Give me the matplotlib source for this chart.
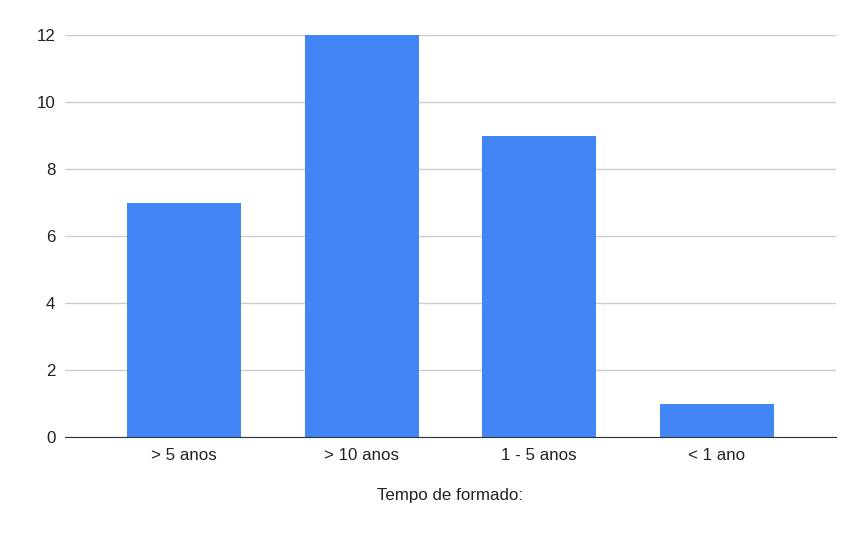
import matplotlib.pyplot as plt

categorias = ["> 5 anos", "> 10 anos", "1 - 5 anos", "< 1 ano"]
valores = [7, 12, 9, 1]

plt.rcParams['font.family'] = ['Liberation Sans', 'DejaVu Sans']

fig = plt.figure(figsize=(8.63, 5.33), dpi=100)
ax = fig.add_axes([0.0753, 0.1801, 0.8934, 0.7542])

x = range(len(categorias))
ax.bar(x, valores, width=0.64, color='#4285f4', zorder=3)

ax.set_xlim(-0.67, 3.67)
ax.set_ylim(0, 12)
ax.set_yticks([0, 2, 4, 6, 8, 10, 12])
ax.set_xticks(list(x))
ax.set_xticklabels(categorias)
ax.grid(axis='y', color='#cccccc', linewidth=1, zorder=0)

for s in ['top', 'right', 'left']:
    ax.spines[s].set_visible(False)
ax.spines['bottom'].set_color('#333333')
ax.spines['bottom'].set_zorder(4)
ax.tick_params(axis='both', length=0, labelsize=12.2, colors='#222222')
ax.tick_params(axis='y', pad=7)
ax.tick_params(axis='x', pad=8)

ax.set_xlabel("Tempo de formado:", fontsize=12.2, color='#222222', labelpad=18)

fig.savefig("out.png", dpi=100)
